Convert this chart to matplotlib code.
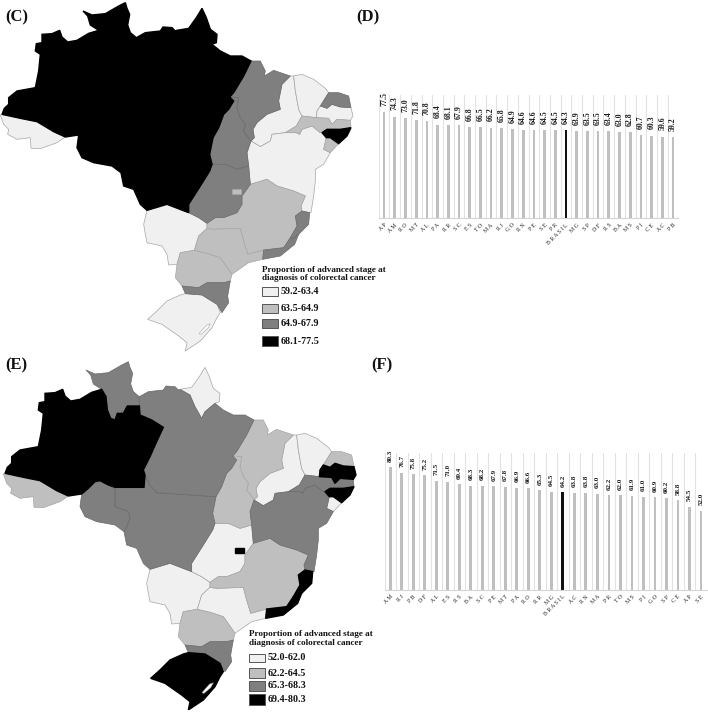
import matplotlib
matplotlib.use("Agg")
import matplotlib.pyplot as plt
from matplotlib.patches import Rectangle

plt.rcParams['font.family'] = ['Liberation Serif', 'DejaVu Serif']

W, H = 708, 714

def shift(pts, dx, dy):
    return [(x + dx, y + dy) for x, y in pts]

# ---------- state outlines (map units) ----------
AM = shift([(135,100),(165,98),(188,88),(195,108),(212,123),(240,118),(275,97),(305,88),(318,110),(322,150),(332,175),(345,180),(352,160),(370,160),(382,138),(418,138),(420,165),(455,180),(490,202),(470,245),(450,290),(430,330),(435,345),(432,382),(345,382),(325,375),(300,362),(285,365),(265,385),(245,402),(205,408),(170,392),(120,362),(70,352),(15,340),(22,322),(35,310),(35,290),(60,270),(115,260),(125,210),(130,160),(115,150),(118,128),(135,125)], 0, 15)
AC = shift([(10,342),(15,340),(70,352),(120,362),(170,392),(205,408),(180,425),(130,443),(102,442),(100,410),(60,415),(32,400),(35,385),(20,370)], 0, 15)
RR = shift([(258,30),(285,42),(325,38),(365,15),(385,5),(390,22),(398,40),(392,72),(400,95),(418,110),(418,138),(382,138),(370,160),(352,160),(345,180),(332,175),(322,150),(318,110),(305,88),(280,72),(272,45)], 0, 15)
RO = [(245,417),(265,400),(285,380),(300,377),(325,390),(345,397),(345,455),(385,470),(390,490),(380,515),(372,530),(345,510),(290,500),(255,485),(240,455)]
PA = [(418,125),(445,110),(490,105),(498,93),(525,95),(535,105),(540,103),(570,120),(585,155),(605,190),(615,170),(645,145),(670,165),(700,180),(735,180),(762,195),(740,240),(710,290),(698,303),(710,315),(695,340),(680,355),(665,395),(648,425),(470,413),(450,390),(435,360),(430,345),(450,305),(470,260),(490,217),(455,195),(420,180),(418,153)]
AP = shift([(0,88),(35,82),(58,50),(75,22),(88,50),(100,85),(120,100),(118,125),(105,130),(75,155),(65,175),(45,140),(30,105)], 540, 15)
MT = [(345,397),(432,397),(435,360),(450,390),(470,413),(648,425),(638,475),(645,505),(638,525),(610,570),(575,625),(575,650),(562,645),(510,625),(450,643),(430,625),(410,580),(380,570),(372,530),(380,515),(390,490),(385,470),(345,455)]
TO = shift([(158,288),(185,290),(180,320),(190,350),(205,370),(200,390),(222,420),(210,455),(215,495),(180,505),(145,490),(105,490),(98,460),(108,410),(125,380),(140,340),(155,325),(170,300)], 540, 15)
MA = shift([(222,180),(250,180),(265,210),(262,225),(290,208),(340,225),(315,250),(305,300),(310,325),(270,340),(240,365),(228,385),(232,410),(222,420),(200,390),(205,370),(190,350),(180,320),(185,290),(158,288),(170,275),(200,225)], 540, 15)
PI = shift([(340,225),(350,225),(355,270),(365,325),(375,345),(358,375),(325,395),(285,400),(280,420),(250,437),(222,420),(232,410),(228,385),(240,365),(270,340),(310,325),(305,300),(315,250)], 540, 15)
CE = shift([(350,225),(375,220),(410,235),(445,262),(455,275),(430,315),(420,330),(418,350),(375,345),(365,325),(355,270)], 540, 15)
RN = shift([(455,275),(485,275),(515,285),(522,320),(490,318),(465,310),(450,322),(430,315)], 540, 15)
PB = shift([(430,315),(450,322),(465,310),(490,318),(522,320),(528,345),(520,358),(480,355),(465,370),(455,352),(418,350),(420,330)], 540, 15)
PE = shift([(325,395),(358,375),(375,345),(418,350),(455,352),(465,370),(480,355),(520,358),(522,380),(490,385),(450,385),(435,395),(430,395),(405,375),(375,385),(368,400),(358,395)], 540, 15)
AL = shift([(435,395),(450,385),(490,385),(522,380),(510,405),(485,428),(460,410),(448,410)], 540, 15)
SE = shift([(448,410),(460,410),(485,428),(460,455),(440,445)], 540, 15)
BA = [(762,435),(790,452),(820,435),(825,415),(865,410),(898,410),(908,415),(915,400),(945,390),(970,410),(975,410),(988,425),(980,460),(1000,470),(980,505),(955,520),(955,555),(950,600),(942,650),(938,650),(915,645),(912,630),(925,600),(890,585),(840,570),(810,550),(760,565),(755,510),(750,470)]
GO = [(645,505),(685,505),(720,520),(755,510),(760,565),(735,600),(735,625),(720,650),(680,665),(655,665),(630,682),(605,665),(575,650),(575,625),(610,570),(638,525)]
DF = [(705,578),(732,578),(732,595),(705,595)]
MS = [(440,685),(450,643),(510,625),(562,645),(575,650),(605,665),(630,682),(630,697),(605,720),(592,763),(550,770),(540,805),(515,807),(510,775),(495,750),(450,740),(445,715)]
MG = [(735,600),(760,565),(810,550),(840,570),(890,585),(925,600),(912,630),(915,645),(895,660),(900,690),(880,725),(860,755),(800,762),(752,775),(740,735),(730,697),(650,700),(630,697),(630,682),(655,665),(680,665),(720,650),(735,625)]
ES = [(915,645),(938,650),(935,685),(905,715),(885,730),(880,725),(900,690),(895,660)]
RJ = [(800,762),(860,755),(880,725),(885,730),(905,715),(893,745),(850,780),(797,790)]
SP = [(630,697),(650,700),(730,697),(740,735),(752,775),(800,762),(797,790),(755,800),(705,835),(670,785),(630,772),(592,763),(605,720)]
PR = [(535,845),(540,805),(550,770),(592,763),(630,772),(670,785),(705,835),(700,855),(680,860),(630,860),(605,875),(555,870)]
SC = [(555,870),(605,875),(630,860),(680,860),(700,855),(692,900),(695,920),(675,950),(660,925),(615,897),(565,893)]
RS = [(452,970),(480,945),(510,915),(550,897),(565,893),(615,897),(660,925),(670,950),(660,965),(645,995),(610,1035),(580,1055),(565,1065),(570,1040),(545,1020),(495,985)]
LAGOON = [(628,988),(640,983),(632,998),(612,1015),(606,1013)]

OUTLINES = dict(RR=RR, AM=AM, AC=AC, RO=RO, PA=PA, AP=AP, MT=MT, TO=TO, MA=MA, PI=PI, CE=CE, RN=RN, PB=PB,
                PE=PE, AL=AL, SE=SE, BA=BA, GO=GO, MS=MS, MG=MG, ES=ES, RJ=RJ, SP=SP, PR=PR, SC=SC, RS=RS, DF=DF)

# ---------- panel C / D data ----------
c_legend_title = "Proportion of advanced stage at\ndiagnosis of colorectal cancer"
c_legend_labels = ["59.2-63.4", "63.5-64.9", "64.9-67.9", "68.1-77.5"]
c_class_0 = ["MS", "PI", "CE", "AC", "PB", "BA", "RS"]
c_class_1 = ["PE", "SE", "PR", "MG", "SP", "DF"]
c_class_2 = ["SC", "ES", "TO", "MA", "RJ", "GO", "RN"]
c_class_3 = ["AP", "AM", "RO", "MT", "AL", "PA", "RR"]

d_labels = ["AP","AM","RO","MT","AL","PA","RR","SC","ES","TO","MA","RJ","GO","RN","PE","SE","PR","BRASIL","MG","SP","DF","RS","BA","MS","PI","CE","AC","PB"]
d_values = [77.5,74.3,73.0,71.8,70.8,68.4,68.1,67.9,66.8,66.5,66.2,65.8,64.9,64.6,64.6,64.5,64.5,64.3,63.9,63.5,63.5,63.4,63.0,62.8,60.7,60.3,59.6,59.2]

# ---------- panel E / F data ----------
e_legend_title = "Proportion of advanced stage at\ndiagnosis of colorectal cancer"
e_legend_labels = ["52.0-62.0", "62.2-64.5", "65.3-68.3", "69.4-80.3"]
e_class_0 = ["MS", "PI", "GO", "SP", "CE", "AP", "SE"]
e_class_1 = ["MG", "AC", "RN", "MA", "PR", "TO"]
e_class_2 = ["BA", "SC", "PE", "MT", "PA", "RO", "RR"]
e_class_3 = ["AM", "RJ", "PB", "DF", "AL", "ES", "RS"]

f_labels = ["AM","RJ","PB","DF","AL","ES","RS","BA","SC","PE","MT","PA","RO","RR","MG","BRASIL","AC","RN","MA","PR","TO","MS","PI","GO","SP","CE","AP","SE"]
f_values = [80.3,76.7,75.8,75.2,71.5,71.0,69.4,68.3,68.2,67.9,67.8,66.9,66.6,65.3,64.5,64.2,63.8,63.8,63.0,62.2,62.0,61.9,61.0,60.9,60.2,58.8,54.5,52.0]

CLASS_COLORS = ["#f0f0f0", "#bfbfbf", "#7f7f7f", "#000000"]
EDGE = "#a6a6a6"

fig = plt.figure(figsize=(W/100, H/100), dpi=100, facecolor="white")

def px_axes(x0, y0, x1, y1):
    return fig.add_axes([x0/W, 1-y1/H, (x1-x0)/W, (y1-y0)/H])

def draw_map(rect, xlim, ylim, classes):
    ax = px_axes(*rect)
    ax.set_xlim(*xlim); ax.set_ylim(*ylim); ax.axis("off")
    for idx, names in enumerate(classes):
        for n in names:
            xs, ys = zip(*OUTLINES[n])
            ax.fill(xs, ys, facecolor=CLASS_COLORS[idx],
                    edgecolor="#000000" if idx == 3 else ("#6a6a6a" if idx == 2 else EDGE),
                    linewidth=1.0 if idx == 3 else 0.5,
                    zorder=(3 if n == "DF" else 2) + (0.1 if idx == 3 else 0))
    xs, ys = zip(*LAGOON)
    ax.fill(xs, ys, facecolor="white", edgecolor=EDGE, linewidth=0.4, zorder=3)
    return ax

draw_map((0, 0, 370, 355), (9, 1119), (1077, 12), [c_class_0, c_class_1, c_class_2, c_class_3])
draw_map((0, 355, 370, 710), (0, 1110), (1065, 0), [e_class_0, e_class_1, e_class_2, e_class_3])

def draw_bars(rect, labels, values, vfs, tfs, gap):
    ax = px_axes(*rect)
    x = list(range(len(values)))
    colors = ["#111111" if l == "BRASIL" else "#bfbfbf" for l in labels]
    ax.bar(x, values, width=0.25, color=colors, zorder=2)
    ax.set_xlim(-0.5, len(values)-0.5)
    ax.set_ylim(0, 90)
    ax.set_yticks([])
    for i in range(len(values)+1):
        ax.axvline(i-0.5, color="#e2e2e2", lw=0.8, zorder=1)
    for s in ["top", "left", "right"]:
        ax.spines[s].set_visible(False)
    ax.spines["bottom"].set_color("#d4d4d4")
    ax.spines["bottom"].set_linewidth(0.8)
    ax.set_xticks(x)
    ax.set_xticklabels([" ".join(l) for l in labels], rotation=45, ha="right",
                       rotation_mode="anchor", fontsize=tfs, color="#262626")
    ax.tick_params(axis="x", length=0, pad=3)
    for xi, v in zip(x, values):
        ax.annotate(f"{v:.1f}", (xi, v), xytext=(0, gap), textcoords="offset points", rotation=90,
                    ha="center", va="bottom", fontsize=vfs, color="#1a1a1a", fontweight="bold",
                    annotation_clip=False)
    return ax

draw_bars((378.7, 95, 678.4, 218.3), d_labels, d_values, 5.6, 4.2, 4.5)
draw_bars((384.5, 452.7, 706.8, 590), f_labels, f_values, 5.0, 4.2, 4.0)

# overlay in pixel coordinates for panel letters and legends
ov = fig.add_axes([0, 0, 1, 1], facecolor="none")
ov.set_xlim(0, W); ov.set_ylim(H, 0); ov.axis("off")

for letter, lx, ly in [("(C)", 5, 17), ("(D)", 356, 17), ("(E)", 5, 365), ("(F)", 371, 365)]:
    ov.text(lx, ly, letter, fontsize=12, fontweight="bold", ha="left", va="center", color="#111111")

def legend(tx, ty, title, labels, boxes, sw, tx2):
    ov.text(tx, ty, title, fontsize=6.6, fontweight="bold", ha="left", va="center", linespacing=1.15, color="#111111")
    for lab, (y0, y1), col in zip(labels, boxes, CLASS_COLORS):
        ov.add_patch(Rectangle((tx, y0), sw, y1-y0, facecolor=col, edgecolor="#555555", lw=0.7))
        ov.text(tx2, (y0+y1)/2, lab, fontsize=7.2, fontweight="bold", ha="left", va="center", color="#111111")

legend(262, 274, c_legend_title, c_legend_labels,
       [(287, 296), (304, 313), (319, 328), (336, 346)], 16, 281)
legend(249, 638.5, e_legend_title, e_legend_labels,
       [(654, 662), (668, 678), (681, 691), (694, 705)], 16, 268)

fig.savefig("out.png", dpi=100, facecolor="white")
